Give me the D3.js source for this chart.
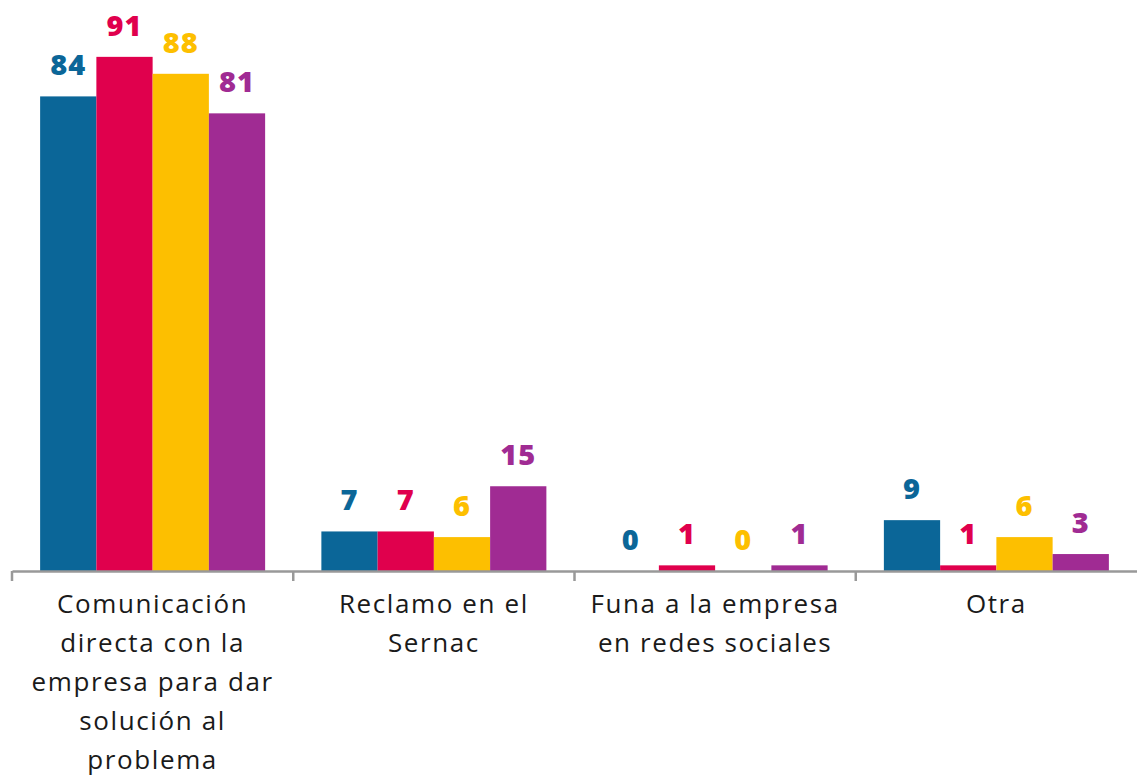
<!DOCTYPE html>
<html>
<head>
<meta charset="utf-8">
<script src="https://cdn.jsdelivr.net/npm/d3@7"></script>
<style>
  html, body { margin: 0; padding: 0; background: #fff; }
  svg { display: block; font-family: "Open Sans", "Noto Sans", sans-serif; }
</style>
</head>
<body>
<div id="root"></div>
<script>
const categories = [
  "Comunicación directa con la empresa para dar solución al problema",
  "Reclamo en el Sernac",
  "Funa a la empresa en redes sociales",
  "Otra",
];
const seriesNames = ["s1", "s2", "s3", "s4"];
const seriesColors = ["#0b6698", "#e0004d", "#fdbf00", "#a02b93"];
const values = [
  [84, 91, 88, 81],
  [7, 7, 6, 15],
  [0, 1, 0, 1],
  [9, 1, 6, 3],
];

const width = 1137;
const height = 779;
const margin = { top: 6, right: 0, bottom: 208, left: 12 };

const svg = d3.select("#root").append("svg")
  .attr("width", width)
  .attr("height", height);

const x = d3.scaleBand()
  .domain(categories)
  .range([margin.left, width - margin.right]);

// bars fill the middle 80% of each group
const xInner = d3.scaleBand()
  .domain(seriesNames)
  .range([x.bandwidth() * 0.1, x.bandwidth() * 0.9]);

const y = d3.scaleLinear()
  .domain([0, 100])
  .range([height - margin.bottom, margin.top]);

const baseline = y(0);

const groups = svg.append("g")
  .selectAll("g")
  .data(categories)
  .join("g")
  .attr("transform", d => `translate(${x(d)},0)`);

const bars = groups.selectAll("g.bar")
  .data((d, i) => values[i].map((v, j) => ({ v, s: seriesNames[j], c: seriesColors[j] })))
  .join("g")
  .attr("class", "bar");

bars.append("rect")
  .attr("x", d => xInner(d.s))
  .attr("y", d => y(d.v))
  .attr("width", xInner.bandwidth())
  .attr("height", d => y(0) - y(d.v))
  .attr("fill", d => d.c);

bars.append("text")
  .attr("x", d => xInner(d.s) + xInner.bandwidth() / 2)
  .attr("y", d => y(d.v) - 21)
  .attr("text-anchor", "middle")
  .attr("font-size", 29)
  .attr("font-weight", 800)
  .attr("letter-spacing", 1)
  .attr("fill", d => d.c)
  .text(d => d.v);

// axis
const axis = svg.append("g")
  .attr("transform", `translate(0,${baseline})`)
  .call(d3.axisBottom(x).tickSize(0).tickFormat(""));
axis.select(".domain").attr("stroke", "#999").attr("stroke-width", 2.5);

axis.selectAll("line.sep")
  .data(categories.map(c => x(c)))
  .join("line")
  .attr("class", "sep")
  .attr("x1", d => d)
  .attr("x2", d => d)
  .attr("y1", 0)
  .attr("y2", 10)
  .attr("stroke", "#999")
  .attr("stroke-width", 2.5);

// category labels, wrapped
const labels = svg.append("g")
  .selectAll("text")
  .data(categories)
  .join("text")
  .attr("x", d => x(d) + x.bandwidth() / 2)
  .attr("y", baseline + 42)
  .attr("text-anchor", "middle")
  .attr("font-size", 26)
  .attr("letter-spacing", 1.6)
  .attr("fill", "#1a1a1a")
  .text(d => d);

labels.each(function (d) {
  const text = d3.select(this);
  const words = d.split(" ");
  const cx = text.attr("x");
  text.text(null);
  let line = [];
  let tspan = text.append("tspan").attr("x", cx).attr("dy", 0);
  words.forEach(w => {
    line.push(w);
    tspan.text(line.join(" "));
    if (tspan.node().getComputedTextLength() > 258 && line.length > 1) {
      line.pop();
      tspan.text(line.join(" "));
      line = [w];
      tspan = text.append("tspan").attr("x", cx).attr("dy", 39).text(w);
    }
  });
});
</script>
</body>
</html>
